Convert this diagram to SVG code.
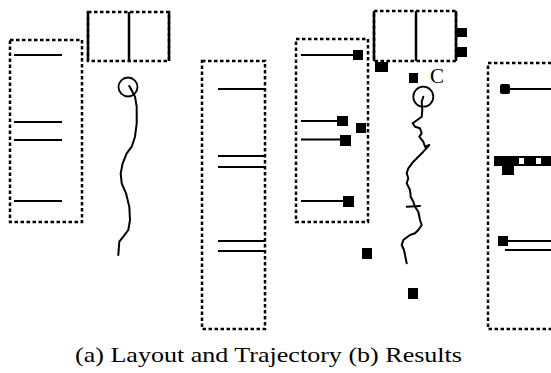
<svg xmlns="http://www.w3.org/2000/svg" width="551" height="373" viewBox="0 0 551 373">
<defs>
<style>
.box{fill:none;stroke:#000;stroke-width:2.5;stroke-dasharray:3.5 2.5}
.wall{stroke:#000;stroke-width:2.5;fill:none}
.ln{stroke:#000;stroke-width:2.2;fill:none}
.traj{stroke:#000;stroke-width:2;fill:none;stroke-linejoin:round;stroke-linecap:round}
.ball{fill:none;stroke:#000;stroke-width:1.8}
.sq{fill:#000}
.cap{font-family:"Liberation Serif","DejaVu Serif",serif;font-size:21px;fill:#000}
</style>
</defs>
<rect width="551" height="373" fill="#fff"/>

<!-- Panel (a) -->
<g id="a-left-shelf">
<rect class="box" x="10" y="40" width="72" height="182"/>
<line class="ln" x1="14" y1="55" x2="62" y2="55"/>
<line class="ln" x1="14" y1="122" x2="62" y2="122"/>
<line class="ln" x1="14" y1="140" x2="62" y2="140"/>
<line class="ln" x1="14" y1="201" x2="62" y2="201"/>
</g>
<g id="a-top-box">
<rect class="box" x="88" y="12" width="81" height="49"/>
<line class="wall" x1="88" y1="12" x2="88" y2="61"/>
<line class="wall" x1="129" y1="12" x2="129" y2="61"/>
<line class="wall" x1="169" y1="12" x2="169" y2="61"/>
</g>
<g id="a-right-shelf">
<rect class="box" x="202" y="61" width="63" height="268"/>
<line class="ln" x1="218" y1="89" x2="265" y2="89"/>
<line class="ln" x1="218" y1="156" x2="265" y2="156"/>
<line class="ln" x1="218" y1="167" x2="265" y2="167"/>
<line class="ln" x1="218" y1="241" x2="265" y2="241"/>
<line class="ln" x1="218" y1="251" x2="265" y2="251"/>
</g>
<g id="a-trajectory">
<circle class="ball" cx="128" cy="87" r="9.5"/>
<polyline class="traj" points="129.3,86 135,96.7 136.7,106.7 136.7,123.3 135,136.7 131.7,146.7 126.7,153.3 122.7,163.3 120.7,173.3 121.7,183.3 126,193.3 129.3,206.7 130,220 128.3,230 123.3,236.7 119.3,241.7 118.3,255"/>
</g>

<!-- Panel (b) -->
<g id="b-left-shelf">
<rect class="box" x="296" y="39" width="72" height="183"/>
<line class="ln" x1="301" y1="55" x2="354" y2="55"/>
<line class="ln" x1="301" y1="121" x2="338" y2="121"/>
<line class="ln" x1="301" y1="139.5" x2="341" y2="139.5"/>
<line class="ln" x1="301" y1="201" x2="344" y2="201"/>
<rect class="sq" x="353" y="50" width="10" height="10"/>
<rect class="sq" x="337" y="116" width="11" height="10"/>
<rect class="sq" x="340" y="135" width="11" height="11"/>
<rect class="sq" x="343" y="196" width="11" height="11"/>
<rect class="sq" x="356" y="123" width="10" height="10"/>
</g>
<g id="b-top-box">
<rect class="box" x="374" y="11" width="82" height="50"/>
<line class="wall" x1="374" y1="11" x2="374" y2="61"/>
<line class="wall" x1="416" y1="11" x2="416" y2="61"/>
<line class="wall" x1="456" y1="11" x2="456" y2="61"/>
<rect class="sq" x="457" y="28" width="10" height="9"/>
<rect class="sq" x="457" y="47" width="10" height="10"/>
<rect class="sq" x="375" y="62" width="13" height="10"/>
</g>
<g id="b-marker-c">
<rect class="sq" x="409" y="73" width="9" height="10"/>
<text class="cap" x="430" y="83" font-size="19">C</text>
</g>
<g id="b-trajectory">
<circle class="ball" cx="423.3" cy="96.7" r="10"/>
<polyline class="traj" points="423.3,96.7 421.7,101.7 422.3,110 421.7,116.7 412.7,123.3 415,126.7 420,128.3 421.7,133.3 419.3,136.7 423.3,141.7 425,146.7 429.3,145 423.3,151.7 418.3,156.7 413.3,161.7 408.3,168.3 406.7,173.3 408.3,178.3 406.7,183.3 410,190 410.7,196.7 413.3,201.7 415,206.7 418.3,211.7 420,220 421.7,225 418.3,230 415,233.3 410,235 403.3,240 401.7,245 404,250 405,255 406.7,263.3"/>
<line class="traj" x1="406.7" y1="206.7" x2="420" y2="206"/>
<rect class="sq" x="362" y="248" width="10" height="11"/>
<rect class="sq" x="408" y="288" width="10" height="11"/>
</g>
<g id="b-right-shelf">
<rect class="box" x="488" y="63" width="70" height="266"/>
<line class="ln" x1="505" y1="89" x2="551" y2="89"/>
<rect class="sq" x="500" y="84" width="10" height="10" rx="2"/>
<rect class="sq" x="494" y="156" width="57" height="10"/>
<rect x="519" y="158" width="5" height="6" fill="#fff"/>
<rect x="536" y="158" width="5" height="6" fill="#fff"/>
<rect class="sq" x="502" y="163" width="12" height="12"/>
<line class="ln" x1="503" y1="241" x2="551" y2="241"/>
<line class="ln" x1="505" y1="250" x2="551" y2="250"/>
<rect class="sq" x="498" y="236" width="10" height="10"/>
</g>

<text class="cap" x="75" y="362" textLength="387" lengthAdjust="spacingAndGlyphs">(a) Layout and Trajectory (b) Results</text>
</svg>
